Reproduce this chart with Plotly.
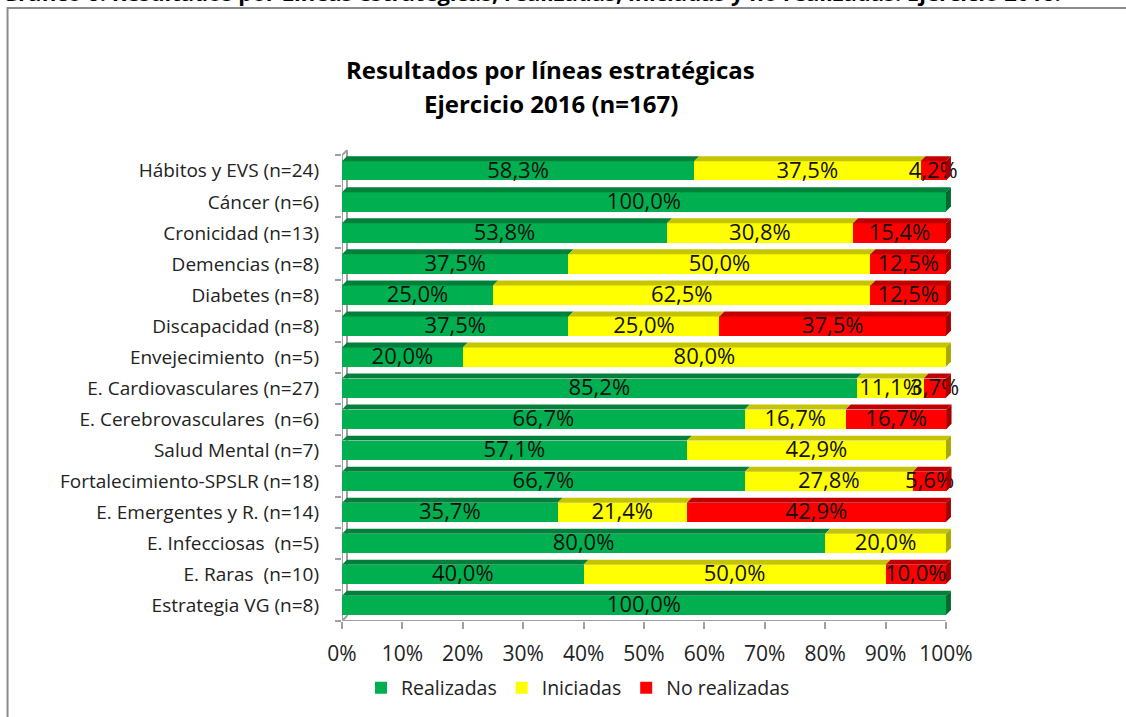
import plotly.graph_objects as go

categories = ["Hábitos y EVS (n=24)", "Cáncer (n=6)", "Cronicidad (n=13)", "Demencias (n=8)",
              "Diabetes (n=8)", "Discapacidad (n=8)", "Envejecimiento  (n=5)",
              "E. Cardiovasculares (n=27)", "E. Cerebrovasculares  (n=6)", "Salud Mental (n=7)",
              "Fortalecimiento-SPSLR (n=18)", "E. Emergentes y R. (n=14)", "E. Infecciosas  (n=5)",
              "E. Raras  (n=10)", "Estrategia VG (n=8)"]
realizadas = [58.3, 100.0, 53.8, 37.5, 25.0, 37.5, 20.0, 85.2, 66.7, 57.1, 66.7, 35.7, 80.0, 40.0, 100.0]
iniciadas = [37.5, 0, 30.8, 50.0, 62.5, 25.0, 80.0, 11.1, 16.7, 42.9, 27.8, 21.4, 20.0, 50.0, 0]
no_realizadas = [4.2, 0, 15.4, 12.5, 12.5, 37.5, 0, 3.7, 16.7, 0, 5.6, 42.9, 0, 10.0, 0]
series_names = ["Realizadas", "Iniciadas", "No realizadas"]
x_tick_values = [0, 10, 20, 30, 40, 50, 60, 70, 80, 90, 100]
title_line1 = "Resultados por líneas estratégicas"
title_line2 = "Ejercicio 2016 (n=167)"
caption = "Gráfico 6: Resultados por Líneas estratégicas, realizadas, iniciadas y no realizadas. Ejercicio 2016."

front_colors = ["#00B050", "#FFFF00", "#FF0000"]
top_colors = ["#00803A", "#C4C400", "#C00000"]
side_colors = ["#006A2E", "#A8A800", "#A00000"]

W, H = 1126, 717
L, PX100 = 342, 604.0          # pixel of 0% and pixels per 100%
XMAX = 101.5
T0, B0 = 155.0, 621.0          # pixel of y=-0.5 and y=14.5
n = len(categories)
unit = (B0 - T0) / n
YTOP = -0.8
plot_top = T0 - (-0.5 - YTOP) * unit
R = L + PX100 * XMAX / 100

def ppx(px):
    return (px - L) / (R - L)

def ppy(py):
    return (B0 - py) / (B0 - plot_top)

bar_w = 0.62
dx = 5.0 / PX100 * 100
dy = 5.0 / unit

series = [realizadas, iniciadas, no_realizadas]
fig = go.Figure()
idx = list(range(n))
for s, vals in enumerate(series):
    fig.add_trace(go.Bar(y=idx, x=vals, orientation="h", width=bar_w, name=series_names[s],
                         marker=dict(color=front_colors[s], line=dict(width=0)),
                         hoverinfo="skip"))

shapes = []
lab_x, lab_y, lab_t = [], [], []
for i in range(n):
    cum = 0.0
    last = None
    for s, vals in enumerate(series):
        v = vals[i]
        if v <= 0:
            continue
        x0, x1 = cum, cum + v
        yt = i - bar_w / 2
        shapes.append(dict(type="path", xref="x", yref="y", layer="above",
                           path=f"M {x0},{yt} L {x1},{yt} L {x1+dx},{yt-dy} L {x0+dx},{yt-dy} Z",
                           fillcolor=top_colors[s], line=dict(width=0)))
        lab_x.append((x0 + x1) / 2)
        lab_y.append(i + 0.04)
        lab_t.append(f"{v:.1f}%".replace(".", ","))
        cum = x1
        last = s
    if last is not None:
        yt = i - bar_w / 2
        yb = i + bar_w / 2
        shapes.append(dict(type="path", xref="x", yref="y", layer="above",
                           path=f"M {cum},{yt} L {cum+dx},{yt-dy} L {cum+dx},{yb-dy} L {cum},{yb} Z",
                           fillcolor=side_colors[last], line=dict(width=0)))

fig.add_trace(go.Scatter(x=lab_x, y=lab_y, text=lab_t, mode="text", showlegend=False,
                         textfont=dict(family="Open Sans", size=22, color="#111111"),
                         hoverinfo="skip", cliponaxis=False))

axis_col = "#A0A0A0"
shapes += [
    dict(type="line", xref="x", yref="y", x0=0, y0=-0.5, x1=0, y1=n - 0.5,
         line=dict(color=axis_col, width=2), layer="below"),
    dict(type="line", xref="x", yref="y", x0=dx, y0=-0.5 - dy, x1=dx, y1=n - 0.5 - dy,
         line=dict(color=axis_col, width=2), layer="below"),
    dict(type="line", xref="x", yref="y", x0=0, y0=-0.5, x1=dx, y1=-0.5 - dy,
         line=dict(color=axis_col, width=2), layer="below"),
    dict(type="line", xref="x", yref="y", x0=0, y0=n - 0.5, x1=dx, y1=n - 0.5 - dy,
         line=dict(color=axis_col, width=2), layer="below"),
    dict(type="line", xref="x", yref="y", x0=0, y0=n - 0.5, x1=100, y1=n - 0.5,
         line=dict(color=axis_col, width=2), layer="below"),
]
shapes.append(dict(type="rect", xref="paper", yref="paper",
                   x0=ppx(7.5), y0=ppy(730), x1=ppx(1140), y1=ppy(7.5),
                   line=dict(color="#8C8C8C", width=2), fillcolor="rgba(0,0,0,0)"))

annotations = [
    dict(text=f"<b>{title_line1}</b>", xref="paper", yref="paper", x=ppx(551), y=ppy(69),
         xanchor="center", yanchor="middle", showarrow=False,
         font=dict(family="Open Sans", size=24, color="#000000")),
    dict(text=f"<b>{title_line2}</b>", xref="paper", yref="paper", x=ppx(551), y=ppy(103),
         xanchor="center", yanchor="middle", showarrow=False,
         font=dict(family="Open Sans", size=24, color="#000000")),
    dict(text=f"<b>{caption}</b>", xref="paper", yref="paper", x=ppx(0), y=ppy(9),
         xanchor="left", yanchor="bottom", showarrow=False,
         font=dict(family="Open Sans", size=22, color="#000000")),
]

fig.update_layout(
    width=W, height=H,
    margin=dict(l=L, r=W - R, t=plot_top, b=H - B0, autoexpand=False),
    paper_bgcolor="white", plot_bgcolor="white",
    barmode="stack", bargap=0,
    shapes=shapes, annotations=annotations,
    legend=dict(orientation="h", xref="container", yref="container",
                x=578 / W, y=1 - 688 / H, xanchor="center", yanchor="middle",
                font=dict(family="Open Sans", size=19.5, color="#222222"),
                itemwidth=30, traceorder="normal"),
    xaxis=dict(range=[0, XMAX], tickmode="array", tickvals=x_tick_values,
               ticktext=[f"{v}%" for v in x_tick_values], showgrid=False, zeroline=False,
               showline=False, ticks="outside", ticklen=7, tickwidth=2, tickcolor=axis_col,
               ticklabelstandoff=7,
               tickfont=dict(family="Open Sans", size=21, color="#222222"), fixedrange=True),
    yaxis=dict(range=[n - 0.5, YTOP], tickmode="array", tickvals=idx, ticktext=categories,
               showgrid=False, zeroline=False, showline=False, ticks="",
               minor=dict(tickmode="array", tickvals=[k - 0.5 for k in range(n + 1)],
                          ticks="outside", ticklen=6, tickwidth=2, tickcolor=axis_col,
                          showgrid=False),
               ticklabelstandoff=22,
               tickfont=dict(family="Open Sans", size=19, color="#222222"), fixedrange=True),
    showlegend=True,
)

fig.write_html("out.html", config={"displayModeBar": False},
               post_script="document.body.style.margin='0';document.body.style.overflow='hidden';")
